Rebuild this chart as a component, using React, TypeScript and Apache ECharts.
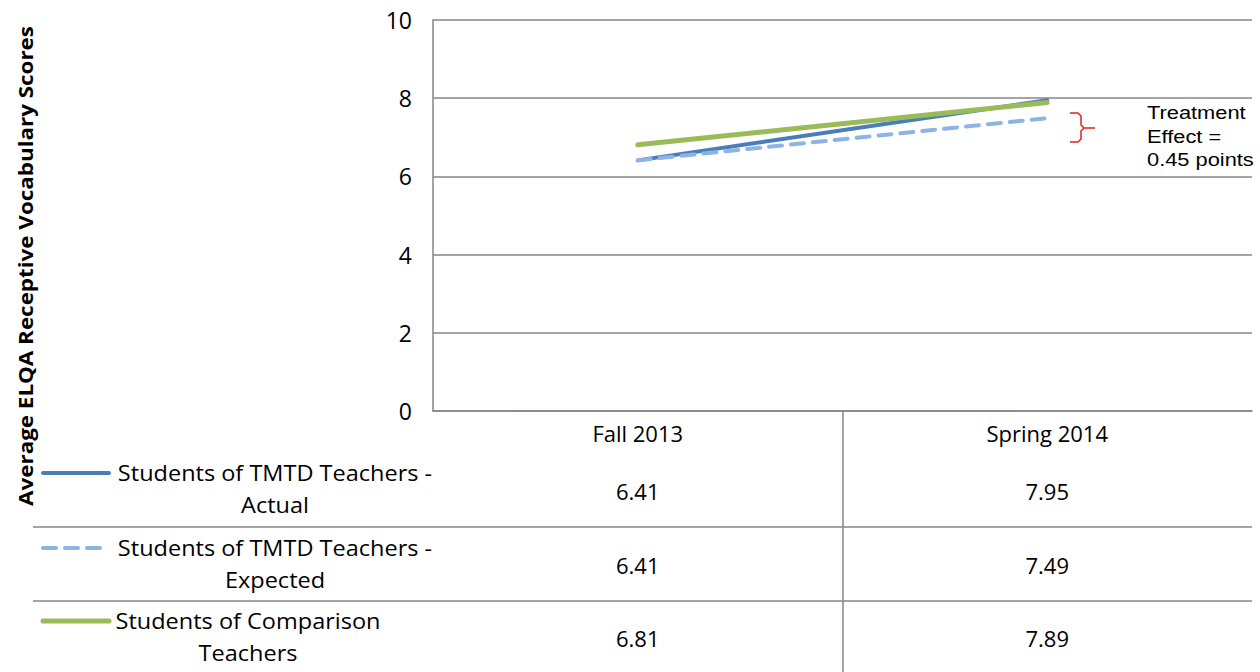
import React, { useEffect, useRef } from "react";
import * as echarts from "echarts";

const categories = ["Fall 2013", "Spring 2014"];
const seriesNames = [
  "Students of TMTD Teachers - Actual",
  "Students of TMTD Teachers - Expected",
  "Students of Comparison Teachers",
];
const legendLines = [
  ["Students of TMTD Teachers -", "Actual"],
  ["Students of TMTD Teachers -", "Expected"],
  ["Students of Comparison", "Teachers"],
];
const actual = [6.41, 7.95];
const expected = [6.41, 7.49];
const comparison = [6.81, 7.89];
const yMin = 0;
const yMax = 10;
const yInterval = 2;
const yTitle = "Average ELQA Receptive Vocabulary Scores";
const annotation = ["Treatment", "Effect =", "0.45 points"];

const FONT = '"Open Sans", "Noto Sans", sans-serif';
const GRAY = "#868686";

export default function App() {
  const ref = useRef<HTMLDivElement>(null);
  useEffect(() => {
    if (!ref.current) return;
    const chart = echarts.init(ref.current, null, { renderer: "svg" });
    const seriesData = [actual, expected, comparison];
    const colors = ["#4A7EBB", "#8DB4E2", "#9BBB59"];
    const widths = [4, 4, 5];
    const dashed = [false, true, false];
    const rowOffsets = [80, 154, 227];
    const legendY = [473, 548, 621];
    const legendCenters = [275, 275, 248];

    const graphic: any[] = [
      {
        type: "text",
        x: 25,
        y: 266,
        rotation: Math.PI / 2,
        scaleX: 1.12,
        style: {
          text: yTitle,
          fontSize: 20,
          fontWeight: "bold",
          fontFamily: FONT,
          fill: "#000",
          align: "center",
          verticalAlign: "middle",
        },
      },
      { type: "line", shape: { x1: 33, y1: 527, x2: 1252, y2: 527 }, style: { stroke: GRAY, lineWidth: 1.5 } },
      { type: "line", shape: { x1: 33, y1: 601, x2: 1252, y2: 601 }, style: { stroke: GRAY, lineWidth: 1.5 } },
      { type: "line", shape: { x1: 843, y1: 411, x2: 843, y2: 672 }, style: { stroke: GRAY, lineWidth: 1.5 } },
      {
        type: "polyline",
        shape: {
          points: [
            [1070, 113], [1078, 113], [1081, 116], [1081, 125], [1084, 128], [1095, 128],
            [1084, 128], [1081, 131], [1081, 139], [1078, 142], [1070, 142],
          ],
        },
        style: { stroke: "#E41E25", lineWidth: 1.5, fill: null },
      },
      {
        type: "text",
        x: 1147,
        y: 101,
        scaleX: 1.18,
        style: {
          text: annotation.join("\n"),
          fontSize: 18.5,
          lineHeight: 23.5,
          fontFamily: '"Liberation Sans", Arial, sans-serif',
          fill: "#000",
          align: "left",
          verticalAlign: "top",
        },
      },
    ];

    legendLines.forEach((lines, i) => {
      graphic.push({
        type: "line",
        shape: { x1: 43, y1: legendY[i], x2: 109, y2: legendY[i] },
        style: {
          stroke: colors[i],
          lineWidth: widths[i],
          lineCap: "round",
          lineDash: dashed[i] ? [13, 9] : null,
        },
      });
      lines.forEach((ln, j) => {
        graphic.push({
          type: "text",
          x: legendCenters[i],
          y: legendY[i] + j * 32,
          scaleX: 1.12,
          style: {
            text: ln,
            fontSize: 21,
            fontFamily: FONT,
            fill: "#000",
            align: "center",
            verticalAlign: "middle",
          },
        });
      });
    });

    chart.setOption({
      animation: false,
      backgroundColor: "#fff",
      grid: { left: 433, top: 20, width: 819, height: 391, containLabel: false },
      xAxis: [
        {
          type: "category",
          data: categories,
          position: "bottom",
          boundaryGap: true,
          axisLine: { show: true, lineStyle: { color: GRAY, width: 1.5 } },
          axisTick: { show: false },
          axisLabel: {
            fontSize: 22,
            color: "#000",
            fontFamily: FONT,
            margin: 22,
            verticalAlign: "middle",
          },
        },
        ...seriesData.map((vals, i) => ({
          type: "category",
          data: categories,
          position: "bottom",
          offset: rowOffsets[i],
          boundaryGap: true,
          axisLine: { show: false },
          axisTick: { show: false },
          splitLine: { show: false },
          axisLabel: {
            fontSize: 22,
            color: "#000",
            fontFamily: FONT,
            margin: 0,
            verticalAlign: "middle",
            formatter: (_v: string, idx: number) => vals[idx].toFixed(2),
          },
        })),
      ],
      yAxis: {
        type: "value",
        min: yMin,
        max: yMax,
        interval: yInterval,
        axisLine: { show: true, lineStyle: { color: GRAY, width: 1.5 } },
        axisTick: { show: false },
        splitLine: { show: true, lineStyle: { color: GRAY, width: 1.5 } },
        axisLabel: { fontSize: 23, color: "#000", fontFamily: FONT, margin: 21 },
      },
      series: seriesData.map((vals, i) => ({
        type: "line",
        name: seriesNames[i],
        data: vals,
        xAxisIndex: 0,
        symbol: "none",
        lineStyle: {
          color: colors[i],
          width: widths[i],
          type: dashed[i] ? [13, 9] : "solid",
          cap: "round",
        },
        itemStyle: { color: colors[i] },
      })),
      graphic,
    });
    return () => chart.dispose();
  }, []);
  return (
    <div
      ref={ref}
      style={{ position: "absolute", left: 0, top: 0, width: 1260, height: 672 }}
    />
  );
}
